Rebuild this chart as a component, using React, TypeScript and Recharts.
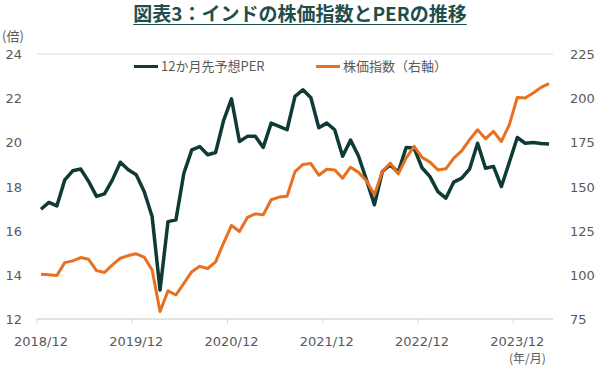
import React from 'react';
import { LineChart, Line, XAxis, YAxis, CartesianGrid } from 'recharts';

// 月次カテゴリ（2018/12〜2024/04）
const MONTHS: string[] = [];
for (let k = 0; k < 65; k++) {
    const m = 11 + k;
    MONTHS.push(`${2018 + Math.floor(m / 12)}/${(m % 12) + 1}`);
}

// 12か月先予想PER（倍）
const PER_SERIES = [
    16.97, 17.28, 17.12, 18.3, 18.71, 18.79, 18.23, 17.55, 17.67, 18.3, 19.1, 18.76,
    18.53, 17.77, 16.64, 13.31, 16.41, 16.49, 18.6, 19.66, 19.81, 19.44, 19.54, 20.98,
    21.97, 20.04, 20.27, 20.27, 19.77, 20.87, 20.72, 20.57, 22.08, 22.38, 22.02, 20.66,
    20.87, 20.57, 19.37, 20.1, 19.38, 18.3, 17.17, 18.68, 18.98, 18.64, 19.77, 19.74,
    18.85, 18.45, 17.77, 17.47, 18.2, 18.38, 18.8, 19.96, 18.83, 18.91, 18.0, 19.1,
    20.22, 19.96, 19.99, 19.95, 19.92,
];

// 株価指数（右軸）
const INDEX_SERIES = [
    100.3, 100.0, 99.6, 106.9, 107.9, 109.8, 108.8, 102.4, 101.3, 105.6, 109.4, 110.9,
    111.9, 110.0, 102.8, 79.2, 90.9, 88.6, 95.2, 101.8, 104.8, 103.6, 107.3, 118.0,
    128.0, 124.5, 132.5, 134.5, 134.0, 142.5, 144.0, 144.5, 158.4, 162.5, 163.0, 156.4,
    159.8, 159.4, 154.7, 160.9, 158.0, 153.3, 145.3, 158.5, 163.2, 157.1, 166.1, 172.7,
    166.5, 163.8, 159.4, 160.0, 166.1, 170.2, 176.5, 182.1, 177.0, 181.2, 175.5, 185.0,
    200.4, 200.1, 202.9, 206.1, 208.2,
];

const X_TICK_LABELS = ['2018/12', '2019/12', '2020/12', '2021/12', '2022/12', '2023/12'];
const LEFT_TICKS = [12, 14, 16, 18, 20, 22, 24];
const RIGHT_TICKS = [75, 100, 125, 150, 175, 200, 225];

const data = MONTHS.map((month, i) => ({
    i,
    month,
    per: PER_SERIES[i],
    index: INDEX_SERIES[i],
}));

const W = 600;
const H = 369;
const PLOT_LEFT = 37;
const PLOT_RIGHT = 553;
const PLOT_TOP = 54;
const PLOT_BOTTOM = 319;
const HALF_STEP = (PLOT_RIGHT - PLOT_LEFT) / MONTHS.length / 2;

const DARK = '#0f3b37';
const ORANGE = '#e8701f';
const TEXT = '#595959';
const GRID = '#d9d9d9';
const NUM_FONT = '"DejaVu Sans", Verdana, sans-serif';
const JP_FONT = '"Noto Sans CJK JP", "Noto Sans", sans-serif';

const XTick = (props: any) => {
    const { x, payload } = props;
    return (
        <g>
            <line
                x1={x - HALF_STEP}
                x2={x - HALF_STEP}
                y1={PLOT_BOTTOM}
                y2={PLOT_BOTTOM + 5}
                stroke={GRID}
            />
            <text
                x={x}
                y={PLOT_BOTTOM + 27}
                textAnchor="middle"
                fill={TEXT}
                fontSize={13}
                fontFamily={NUM_FONT}
            >
                {MONTHS[payload.value]}
            </text>
        </g>
    );
};

const LeftTick = (props: any) => {
    const { y, payload } = props;
    return (
        <text x={22} y={y + 5} textAnchor="end" fill={TEXT} fontSize={13} fontFamily={NUM_FONT}>
            {payload.value}
        </text>
    );
};

const RightTick = (props: any) => {
    const { y, payload } = props;
    return (
        <text x={570} y={y + 5} textAnchor="start" fill={TEXT} fontSize={13} fontFamily={NUM_FONT}>
            {payload.value}
        </text>
    );
};

export default function App() {
    return (
        <div
            style={{
                position: 'absolute',
                left: 0,
                top: 0,
                width: W,
                height: H,
                background: '#fff',
                overflow: 'hidden',
            }}
        >
            <div
                style={{
                    position: 'absolute',
                    top: 1,
                    left: 0,
                    width: W,
                    textAlign: 'center',
                    fontFamily: JP_FONT,
                    fontWeight: 700,
                    fontSize: 19,
                    lineHeight: '24px',
                    color: '#1f4e4b',
                    textDecoration: 'underline',
                    textUnderlineOffset: 3,
                }}
            >
                図表3：インドの株価指数とPERの推移
            </div>

            <LineChart
                width={W}
                height={H}
                data={data}
                margin={{ top: PLOT_TOP, right: 0, bottom: H - PLOT_BOTTOM - 30, left: PLOT_LEFT - 30 }}
            >
                <CartesianGrid vertical={false} stroke={GRID} />
                <XAxis
                    type="number"
                    dataKey="i"
                    domain={[-0.5, MONTHS.length - 0.5]}
                    ticks={X_TICK_LABELS.map((l) => MONTHS.indexOf(l))}
                    tick={<XTick />}
                    tickLine={false}
                    axisLine={{ stroke: GRID }}
                    height={30}
                    interval={0}
                />
                <YAxis
                    yAxisId="left"
                    domain={[12, 24]}
                    ticks={LEFT_TICKS}
                    tick={<LeftTick />}
                    axisLine={false}
                    tickLine={false}
                    width={30}
                    interval={0}
                />
                <YAxis
                    yAxisId="right"
                    orientation="right"
                    domain={[75, 225]}
                    ticks={RIGHT_TICKS}
                    tick={<RightTick />}
                    axisLine={false}
                    tickLine={false}
                    width={W - PLOT_RIGHT}
                    interval={0}
                />
                <Line
                    yAxisId="left"
                    type="linear"
                    dataKey="per"
                    stroke={DARK}
                    strokeWidth={3.5}
                    dot={false}
                    strokeLinejoin="round"
                    isAnimationActive={false}
                />
                <Line
                    yAxisId="right"
                    type="linear"
                    dataKey="index"
                    stroke={ORANGE}
                    strokeWidth={3}
                    dot={false}
                    strokeLinejoin="round"
                    isAnimationActive={false}
                />
            </LineChart>

            <div
                style={{
                    position: 'absolute',
                    left: 2,
                    top: 26,
                    fontFamily: JP_FONT,
                    fontSize: 13,
                    color: TEXT,
                }}
            >
                (倍)
            </div>
            <div
                style={{
                    position: 'absolute',
                    left: 509,
                    top: 349,
                    fontFamily: JP_FONT,
                    fontSize: 12,
                    color: TEXT,
                }}
            >
                (年/月)
            </div>

            <div
                style={{
                    position: 'absolute',
                    top: 57,
                    left: 0,
                    height: 18,
                    fontFamily: JP_FONT,
                    fontSize: 13,
                    color: TEXT,
                }}
            >
                <div style={{ position: 'absolute', left: 134, top: 8, width: 24, height: 3, background: DARK }} />
                <div style={{ position: 'absolute', left: 161, top: 0, whiteSpace: 'nowrap', lineHeight: '18px' }}>
                    12か月先予想PER
                </div>
                <div style={{ position: 'absolute', left: 316, top: 8, width: 24, height: 3, background: ORANGE }} />
                <div style={{ position: 'absolute', left: 343, top: 0, whiteSpace: 'nowrap', lineHeight: '18px' }}>
                    株価指数（右軸）
                </div>
            </div>
        </div>
    );
}
